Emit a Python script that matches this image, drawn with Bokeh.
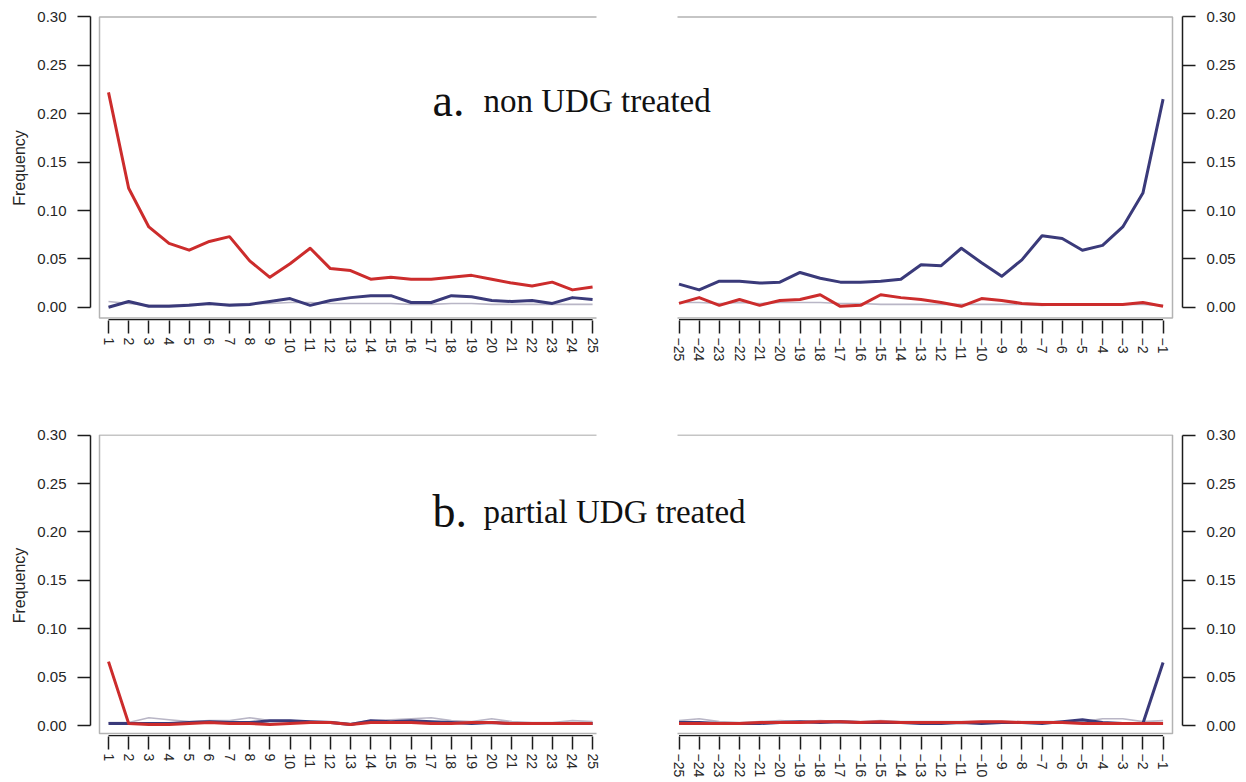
from bokeh.plotting import figure
from bokeh.models import (Range1d, LinearAxis, FixedTicker, PrintfTickFormatter,
                          CustomJSTickFormatter, Label)
from bokeh.layouts import column
from bokeh.embed import file_html
from bokeh.resources import INLINE

# ---------------- data ----------------
pos_5p = list(range(1, 26))          # positions from the 5' end
pos_3p = list(range(-25, 0))         # positions from the 3' end
y_ticks = [0.0, 0.05, 0.10, 0.15, 0.20, 0.25, 0.30]

# a. non UDG treated
a_ct_5p = [0.222, 0.123, 0.083, 0.066, 0.059, 0.068, 0.073, 0.048, 0.031, 0.045,
           0.061, 0.040, 0.038, 0.029, 0.031, 0.029, 0.029, 0.031, 0.033, 0.029,
           0.025, 0.022, 0.026, 0.018, 0.021]
a_ga_5p = [0.000, 0.006, 0.001, 0.001, 0.002, 0.004, 0.002, 0.003, 0.006, 0.009,
           0.002, 0.007, 0.010, 0.012, 0.012, 0.005, 0.005, 0.012, 0.011, 0.007,
           0.006, 0.007, 0.004, 0.010, 0.008]
a_other_5p = [0.006, 0.004, 0.002, 0.002, 0.003, 0.003, 0.003, 0.004, 0.004, 0.005,
              0.005, 0.004, 0.004, 0.004, 0.004, 0.003, 0.003, 0.004, 0.004, 0.003,
              0.003, 0.003, 0.003, 0.003, 0.003]
a_ga_3p = [0.024, 0.018, 0.027, 0.027, 0.025, 0.026, 0.036, 0.030, 0.026, 0.026,
           0.027, 0.029, 0.044, 0.043, 0.061, 0.046, 0.032, 0.049, 0.074, 0.071,
           0.059, 0.064, 0.083, 0.118, 0.215]
a_ct_3p = [0.004, 0.010, 0.002, 0.008, 0.002, 0.007, 0.008, 0.013, 0.001, 0.002,
           0.013, 0.010, 0.008, 0.005, 0.001, 0.009, 0.007, 0.004, 0.003, 0.003,
           0.003, 0.003, 0.003, 0.005, 0.001]
a_other_3p = [0.005, 0.005, 0.004, 0.005, 0.004, 0.005, 0.005, 0.005, 0.004, 0.004,
              0.003, 0.003, 0.003, 0.003, 0.003, 0.003, 0.003, 0.003, 0.002, 0.003,
              0.003, 0.003, 0.003, 0.003, 0.002]

# b. partial UDG treated
b_ct_5p = [0.066, 0.002, 0.001, 0.001, 0.002, 0.003, 0.002, 0.002, 0.001, 0.002,
           0.003, 0.003, 0.001, 0.003, 0.003, 0.003, 0.002, 0.002, 0.003, 0.003,
           0.002, 0.002, 0.002, 0.002, 0.002]
b_ga_5p = [0.002, 0.002, 0.002, 0.002, 0.003, 0.004, 0.003, 0.003, 0.005, 0.005,
           0.004, 0.003, 0.001, 0.005, 0.004, 0.005, 0.004, 0.003, 0.002, 0.003,
           0.002, 0.002, 0.002, 0.002, 0.002]
b_other_5p = [0.003, 0.003, 0.008, 0.006, 0.004, 0.005, 0.005, 0.008, 0.005, 0.005,
              0.004, 0.004, 0.002, 0.005, 0.006, 0.007, 0.008, 0.005, 0.004, 0.007,
              0.004, 0.003, 0.003, 0.005, 0.004]
b_ga_3p = [0.003, 0.003, 0.002, 0.002, 0.002, 0.003, 0.004, 0.003, 0.004, 0.003,
           0.003, 0.003, 0.002, 0.002, 0.003, 0.002, 0.003, 0.003, 0.002, 0.004,
           0.006, 0.003, 0.002, 0.002, 0.065]
b_ct_3p = [0.002, 0.002, 0.002, 0.002, 0.003, 0.003, 0.003, 0.004, 0.004, 0.003,
           0.004, 0.003, 0.003, 0.003, 0.003, 0.004, 0.004, 0.003, 0.003, 0.003,
           0.002, 0.002, 0.002, 0.002, 0.002]
b_other_3p = [0.005, 0.007, 0.004, 0.003, 0.004, 0.005, 0.004, 0.005, 0.004, 0.004,
              0.005, 0.004, 0.004, 0.004, 0.004, 0.004, 0.004, 0.004, 0.004, 0.004,
              0.004, 0.007, 0.007, 0.004, 0.005]

panel_letters = ["a.", "b."]
panel_titles = ["non UDG treated", "partial UDG treated"]

# ---------------- layout / style constants (screen pixels) ----------------
FIG_W = 1246
FRAME_L, FRAME_R = 90, 1182          # y-axes positions
X0_PX = 108.0                        # screen x of position 1
XR0_PX = 678.5                       # screen x of position -25
PXU = 20.17                          # px per position
PXV = 968.0                          # px per frequency unit
BOX_L_PX, BOX_LR_PX = 99, 596        # left box (left edge, end of top line)
BOX_RL_PX, BOX_R_PX = 677, 1172      # right box (start of top line, right edge)

RED = "#cc2c2c"
BLUE = "#3a3a7a"
GREY = "#b9b6c6"
BOXC = "#b3b3b3"
AXC = "#1c1c1c"
TXC = "#262626"
SANS = "Liberation Sans"
SERIF = "Liberation Serif"


def px2x(px):
    return pos_5p[0] + (px - X0_PX) / PXU


OFFSET = px2x(XR0_PX) - pos_3p[0]   # shift of the 3' panel in main coordinates

rows = [
    # fig top, frame top, frame bottom, y of 0.00, box bottom, fig height, title baseline
    dict(fig_top=0, top=15, bottom=320, y0=306.8, box_b=317.5, h=372, title_y=100,
         ct5=a_ct_5p, ga5=a_ga_5p, ot5=a_other_5p, ct3=a_ct_3p, ga3=a_ga_3p, ot3=a_other_3p),
    dict(fig_top=372, top=434, bottom=736, y0=725.0, box_b=733, h=410, title_y=511,
         ct5=b_ct_5p, ga5=b_ga_5p, ot5=b_other_5p, ct3=b_ct_3p, ga3=b_ga_3p, ot3=b_other_3p),
]


def style_axis(ax, size):
    ax.axis_line_color = AXC
    ax.axis_line_width = 1.5
    ax.major_tick_line_color = AXC
    ax.major_tick_line_width = 1.5
    ax.major_tick_out = 13
    ax.major_tick_in = 0
    ax.minor_tick_line_color = None
    ax.major_label_text_font = SANS
    ax.major_label_text_font_size = size
    ax.major_label_text_color = TXC


figs = []
for i, r in enumerate(rows):
    def px2y(py, r=r):
        return (r["y0"] - py) / PXV

    frame_h = r["bottom"] - r["top"]
    b_top = r["top"] - r["fig_top"]
    b_bot = r["h"] - b_top - frame_h
    x_start, x_end = px2x(FRAME_L), px2x(FRAME_R)
    p = figure(width=FIG_W, height=r["h"],
               frame_width=FRAME_R - FRAME_L, frame_height=frame_h,
               x_range=Range1d(x_start, x_end),
               y_range=Range1d(px2y(r["bottom"]), px2y(r["top"])),
               min_border_left=FRAME_L, min_border_right=FIG_W - FRAME_R,
               min_border_top=b_top, min_border_bottom=b_bot,
               toolbar_location=None, output_backend="svg")
    p.extra_x_ranges = {"r": Range1d(x_start - OFFSET, x_end - OFFSET)}
    p.grid.visible = False
    p.outline_line_color = None
    p.background_fill_color = "white"
    p.border_fill_color = "white"

    # boxes (left panel: top/left/bottom; right panel: top/right/bottom)
    yb = px2y(r["box_b"])
    yt = y_ticks[-1]
    p.line([px2x(BOX_LR_PX), px2x(BOX_L_PX), px2x(BOX_L_PX), px2x(BOX_LR_PX)],
           [yt, yt, yb, yb], line_color=BOXC, line_width=1.5)
    p.line([px2x(BOX_RL_PX) - OFFSET, px2x(BOX_R_PX) - OFFSET,
            px2x(BOX_R_PX) - OFFSET, px2x(BOX_RL_PX) - OFFSET],
           [yt, yt, yb, yb], line_color=BOXC, line_width=1.5, x_range_name="r")

    # x axis lines (two separate segments)
    yl = px2y(r["bottom"] - 0.8)
    p.segment(x0=[pos_5p[0]], x1=[pos_5p[-1]], y0=[yl], y1=[yl],
              line_color=AXC, line_width=1.6)
    p.segment(x0=[pos_3p[0]], x1=[pos_3p[-1]], y0=[yl], y1=[yl],
              line_color=AXC, line_width=1.6, x_range_name="r")

    # data
    p.line(pos_5p, r["ot5"], line_color=GREY, line_width=1.6, line_join="round")
    p.line(pos_3p, r["ot3"], line_color=GREY, line_width=1.6, line_join="round",
           x_range_name="r")
    p.line(pos_5p, r["ga5"], line_color=BLUE, line_width=3, line_join="round")
    p.line(pos_3p, r["ga3"], line_color=BLUE, line_width=3, line_join="round",
           x_range_name="r")
    p.line(pos_5p, r["ct5"], line_color=RED, line_width=3, line_join="round")
    p.line(pos_3p, r["ct3"], line_color=RED, line_width=3, line_join="round",
           x_range_name="r")

    # x axis: both panels on one axis
    xa = p.xaxis[0]
    xa.ticker = FixedTicker(ticks=pos_5p + [v + OFFSET for v in pos_3p])
    xa.formatter = CustomJSTickFormatter(
        args=dict(off=OFFSET, split=(pos_5p[-1] + OFFSET + pos_3p[0]) / 2),
        code="""
        const v = tick > split ? Math.round(tick - off) : Math.round(tick);
        return v < 0 ? "\\u2212" + Math.abs(v) : String(v);
        """)
    style_axis(xa, "14px")
    xa.axis_line_color = None
    xa.major_label_orientation = "vertical"
    xa.major_label_standoff = 4

    # left y axis
    ya = p.yaxis[0]
    ya.ticker = FixedTicker(ticks=y_ticks)
    ya.formatter = PrintfTickFormatter(format="%.2f")
    ya.bounds = (y_ticks[0], y_ticks[-1])
    style_axis(ya, "15px")
    ya.major_label_standoff = 11
    ya.axis_label = "Frequency"
    ya.axis_label_text_font = SANS
    ya.axis_label_text_font_size = "16px"
    ya.axis_label_text_font_style = "normal"
    ya.axis_label_text_color = TXC
    ya.axis_label_standoff = 6

    # right y axis
    ry = LinearAxis(ticker=FixedTicker(ticks=y_ticks),
                    formatter=PrintfTickFormatter(format="%.2f"),
                    bounds=(y_ticks[0], y_ticks[-1]))
    style_axis(ry, "15px")
    ry.major_label_standoff = 11
    p.add_layout(ry, "right")

    # panel title
    p.add_layout(Label(x=px2x(432), y=px2y(r["title_y"]), text=panel_letters[i],
                       text_font=SERIF, text_font_size="46px", text_color="#111111",
                       text_baseline="alphabetic", text_align="left"))
    p.add_layout(Label(x=px2x(483), y=px2y(r["title_y"]), text=panel_titles[i],
                       text_font=SERIF, text_font_size="33px", text_color="#111111",
                       text_baseline="alphabetic", text_align="left"))
    figs.append(p)

layout = column(*figs, spacing=0)
open("out.html", "w").write(file_html(layout, INLINE))
